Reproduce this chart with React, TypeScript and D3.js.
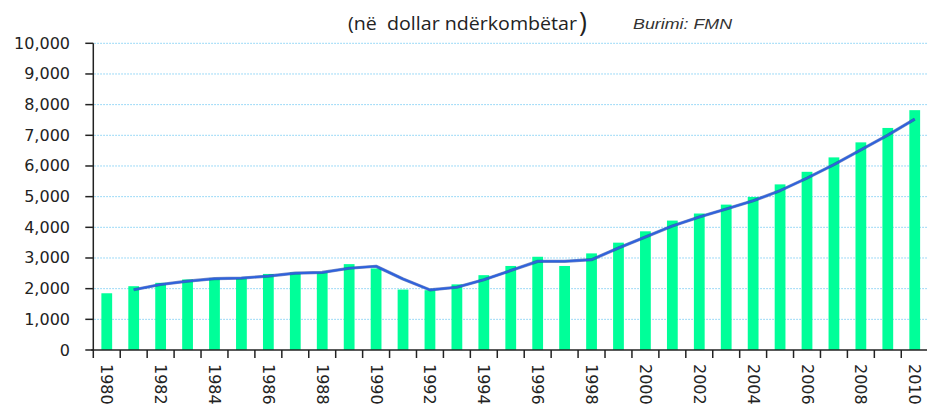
import React from "react";
import * as d3 from "d3";

const years: number[] = d3.range(1980, 2011);
const gdpValues: number[] = [
  1850, 2080, 2190, 2300, 2350, 2340, 2480, 2530, 2530, 2800,
  2660, 1970, 1950, 2140, 2440, 2740, 3040, 2740, 3150, 3500,
  3870, 4220, 4450, 4740, 4990, 5400, 5810, 6280, 6770, 7240,
  7820,
];
const yTicks: number[] = [0, 1000, 2000, 3000, 4000, 5000, 6000, 7000, 8000, 9000, 10000];
const labelYears: number[] = years.filter((y) => (y - 1980) % 2 === 0);
const titleText = "(në  dollar ndërkombëtar";
const sourceText = "Burimi: FMN";

// 2-period moving average trendline (as in the original chart)
const trend = gdpValues
  .map((v, i) => (i === 0 ? null : { year: years[i], value: (v + gdpValues[i - 1]) / 2 }))
  .filter((d) => d !== null) as { year: number; value: number }[];

const W = 927;
const H = 414;
const left = 93.3;
const right = 928.2;
const top = 43.3;
const bottom = 350;

export default function App() {
  const x = d3.scaleBand<number>().domain(years).range([left, right]).padding(0);
  const y = d3.scaleLinear().domain([0, 10000]).range([bottom, top]);
  const bw = x.bandwidth() * 0.4;
  const cx = (yr: number) => (x(yr) as number) + x.bandwidth() / 2;
  const line = d3
    .line<{ year: number; value: number }>()
    .x((d) => cx(d.year))
    .y((d) => y(d.value));
  const fmt = d3.format(",");
  const font = "'DejaVu Sans', Verdana, sans-serif";

  return (
    <svg
      width={W}
      height={H}
      style={{ position: "absolute", left: 0, top: 0, background: "#fff" }}
    >
      {/* title */}
      <text
        x={348}
        y={30}
        fontFamily="'Open Sans', 'Liberation Sans', sans-serif"
        fontSize={19}
        fill="#222"
        textLength={229}
        lengthAdjust="spacingAndGlyphs"
        style={{ whiteSpace: "pre" }}
      >
        {titleText}
      </text>
      <text x={579} y={32} fontFamily="'Open Sans', sans-serif" fontSize={27} fill="#222">
        )
      </text>
      <text
        x={633}
        y={29}
        fontFamily="'Liberation Sans', Arial, sans-serif"
        fontStyle="italic"
        fontSize={15}
        fill="#333"
        textLength={99}
        lengthAdjust="spacingAndGlyphs"
      >
        {sourceText}
      </text>

      {/* gridlines */}
      {yTicks
        .filter((t) => t > 0)
        .map((t) => (
          <line
            key={"g" + t}
            x1={left + 1}
            x2={W}
            y1={y(t)}
            y2={y(t)}
            stroke="#7fcff5"
            strokeWidth={1}
            strokeDasharray="1.5 1.5"
          />
        ))}

      {/* bars */}
      {years.map((yr, i) => (
        <rect
          key={"b" + yr}
          x={cx(yr) - bw / 2}
          y={y(gdpValues[i])}
          width={bw}
          height={bottom - y(gdpValues[i])}
          fill="#00ff99"
        />
      ))}

      {/* trend line */}
      <path d={line(trend) || ""} fill="none" stroke="#1d3f9e" strokeWidth={3.2} strokeOpacity={0.6} strokeLinejoin="round" />
      <path d={line(trend) || ""} fill="none" stroke="#2f62dc" strokeWidth={2} strokeLinejoin="round" />

      {/* y axis */}
      <line x1={left} x2={left} y1={top} y2={bottom} stroke="#222" strokeWidth={1.5} />
      {yTicks.map((t) => (
        <g key={"yt" + t}>
          <line x1={left - 8} x2={left} y1={y(t)} y2={y(t)} stroke="#222" strokeWidth={1.5} />
          <text
            x={70}
            y={y(t)}
            textAnchor="end"
            dominantBaseline="central"
            fontFamily={font}
            fontSize={16}
            fill="#222"
          >
            {fmt(t)}
          </text>
        </g>
      ))}

      {/* x axis */}
      <line x1={left - 2} x2={right} y1={bottom} y2={bottom} stroke="#222" strokeWidth={1.5} />
      {years.map((yr) => (
        <line
          key={"xt" + yr}
          x1={x(yr) as number}
          x2={x(yr) as number}
          y1={bottom}
          y2={bottom + 8}
          stroke="#222"
          strokeWidth={1.5}
        />
      ))}
      <line x1={right} x2={right} y1={bottom} y2={bottom + 8} stroke="#222" strokeWidth={1.5} />
      {labelYears.map((yr) => (
        <text
          key={"xl" + yr}
          x={cx(yr)}
          y={364}
          transform={`rotate(90, ${cx(yr)}, 364)`}
          textAnchor="start"
          dominantBaseline="central"
          fontFamily={font}
          fontSize={16}
          fill="#222"
        >
          {yr}
        </text>
      ))}
    </svg>
  );
}
